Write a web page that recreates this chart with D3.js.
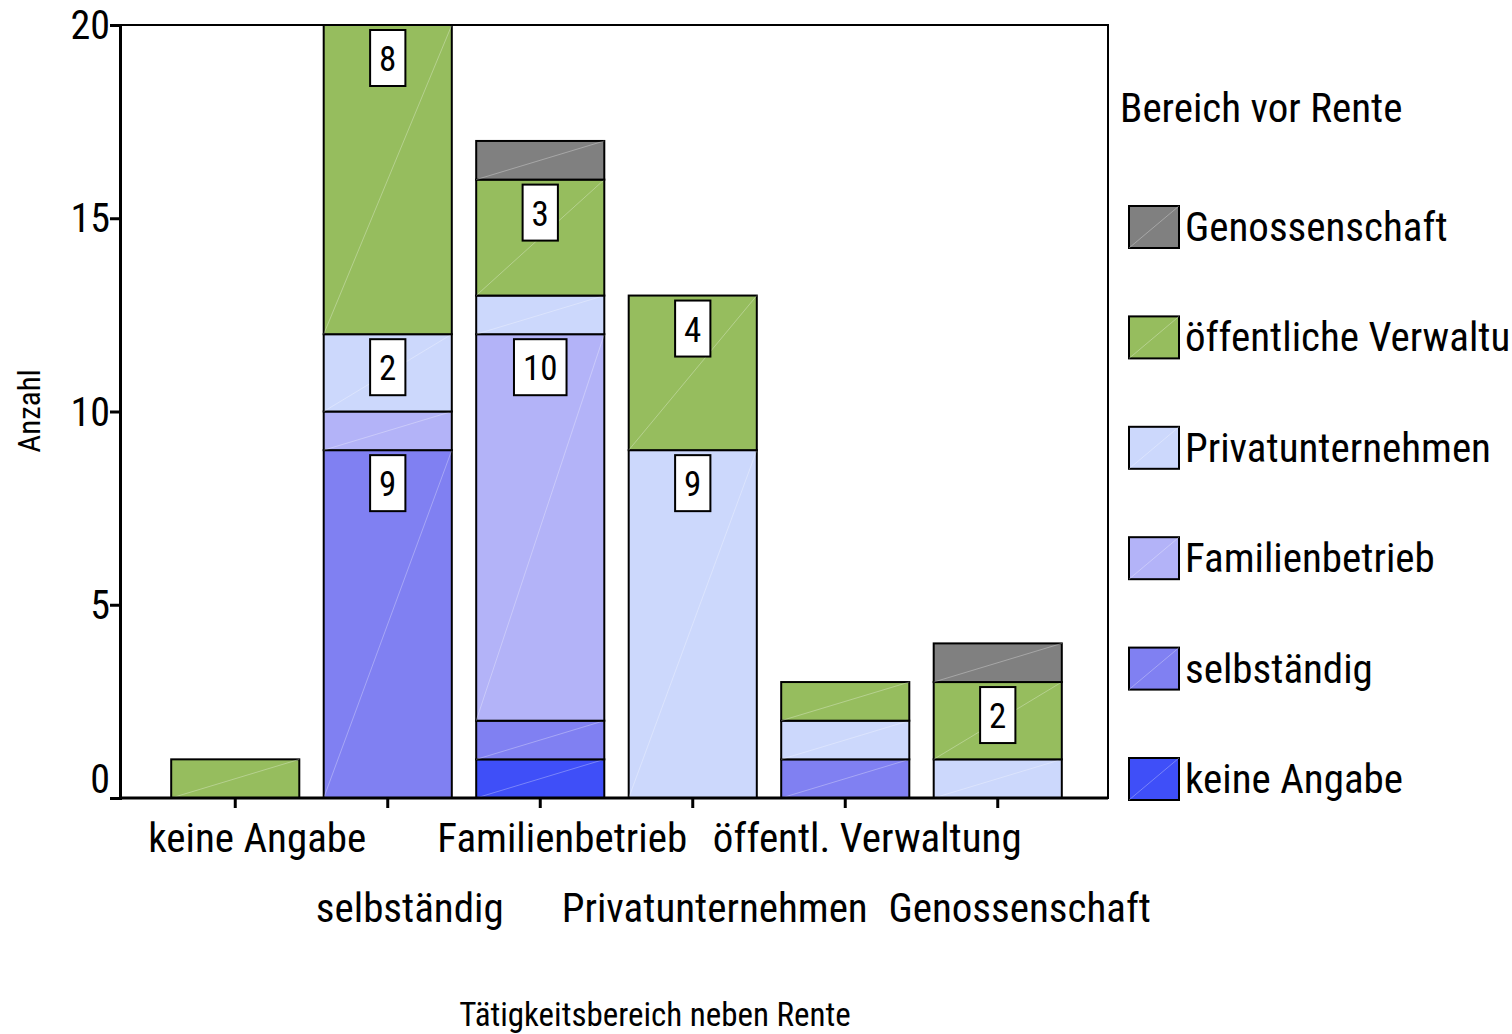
<!DOCTYPE html>
<html>
<head>
    <meta charset="utf-8">
    <script src="https://d3js.org/d3.v7.min.js"></script>
    <style>
        body { margin: 0; background: #fff; }
        text { font-family: "Roboto Condensed", "Roboto", sans-serif; fill: #000; }
    </style>
</head>
<body>
    <script>
        const [width, height] = [1512, 1034]

        // x categories (Tätigkeitsbereich neben Rente)
        const categories = ["keine Angabe", "selbständig", "Familienbetrieb", "Privatunternehmen", "öffentl. Verwaltung", "Genossenschaft"];
        // stack series (Bereich vor Rente), bottom to top
        const seriesNames = ["keine Angabe", "selbständig", "Familienbetrieb", "Privatunternehmen", "öffentliche Verwaltung", "Genossenschaft"];
        const seriesColors = ["#3f4ff8", "#8080f2", "#b3b3f8", "#ccd8fc", "#96bd5e", "#808080"];

        // counts per series, one value per category
        const keineAngabe    = [0, 0, 1, 0, 0, 0];
        const selbstaendig   = [0, 9, 1, 0, 1, 0];
        const familien       = [0, 1, 10, 0, 0, 0];
        const privat         = [0, 2, 1, 9, 1, 1];
        const oeffentlich    = [1, 8, 3, 4, 1, 2];
        const genossenschaft = [0, 0, 1, 0, 0, 1];

        const yTicks = [0, 5, 10, 15, 20];

        const seriesValues = [keineAngabe, selbstaendig, familien, privat, oeffentlich, genossenschaft];
        const rows = categories.map((c, i) => {
            const r = { cat: c };
            seriesNames.forEach((s, j) => r[s] = seriesValues[j][i]);
            return r;
        });

        const margin = { left: 120, top: 25, right: 1108, bottom: 798 };

        const x = d3.scaleBand()
            .domain(categories)
            .range([159, 1074])
            .paddingInner(0.16)
            .paddingOuter(0.08);

        const y = d3.scaleLinear()
            .domain([0, 20])
            .range([margin.bottom, margin.top]);

        const color = d3.scaleOrdinal().domain(seriesNames).range(seriesColors);

        const stack = d3.stack().keys(seriesNames)(rows);

        const svg = d3.select("body")
            .append("svg")
            .attr("width", width)
            .attr("height", height);

        // bars
        const layer = svg.selectAll("g.layer")
            .data(stack)
            .enter()
            .append("g")
            .attr("class", "layer");

        const seg = layer.selectAll("g.seg")
            .data(d => d.map(p => ({ key: d.key, p: p })).filter(o => o.p[1] - o.p[0] > 0))
            .enter()
            .append("g");

        seg.append("rect")
            .attr("x", d => x(d.p.data.cat))
            .attr("y", d => y(d.p[1]))
            .attr("width", x.bandwidth())
            .attr("height", d => y(d.p[0]) - y(d.p[1]))
            .style("fill", d => color(d.key))
            .style("stroke", "#000")
            .style("stroke-width", 2);

        // faint diagonal sheen seen in the original
        seg.append("line")
            .attr("x1", d => x(d.p.data.cat))
            .attr("y1", d => y(d.p[0]))
            .attr("x2", d => x(d.p.data.cat) + x.bandwidth())
            .attr("y2", d => y(d.p[1]))
            .style("stroke", "#fff")
            .style("stroke-opacity", 0.3)
            .style("stroke-width", 1);

        // value labels (only segments of 2 or more)
        const lab = seg.filter(d => d.p[1] - d.p[0] >= 2).append("g");
        lab.each(function(d) {
            const g = d3.select(this);
            const cx = x(d.p.data.cat) + x.bandwidth() / 2;
            const top = y(d.p[1]) + 5;
            const t = g.append("text")
                .attr("x", cx)
                .attr("y", top + 41)
                .attr("text-anchor", "middle")
                .style("font-size", "35px")
                .text(d.p[1] - d.p[0]);
            const w = t.node().getComputedTextLength() + 18;
            g.insert("rect", "text")
                .attr("x", cx - w / 2)
                .attr("y", top)
                .attr("width", w)
                .attr("height", 56)
                .style("fill", "#fff")
                .style("stroke", "#000")
                .style("stroke-width", 2);
        });

        // frame
        svg.append("rect")
            .attr("x", margin.left)
            .attr("y", margin.top)
            .attr("width", margin.right - margin.left)
            .attr("height", margin.bottom - margin.top)
            .style("fill", "none")
            .style("stroke", "#000")
            .style("stroke-width", 2);

        // y axis
        const yAxis = svg.append("g")
            .attr("transform", `translate(${margin.left},0)`)
            .call(d3.axisLeft(y).tickValues(yTicks).tickSize(10).tickPadding(0));
        yAxis.attr("font-family", null);
        yAxis.select(".domain").style("stroke-width", 3);
        yAxis.selectAll(".tick line").style("stroke-width", 3);
        yAxis.selectAll("text")
            .style("font-size", "40px")
            .attr("dy", d => d == 0 ? "-0.15em" : "0.34em");

        // x axis
        const xAxis = svg.append("g")
            .attr("transform", `translate(0,${margin.bottom})`)
            .call(d3.axisBottom(x).tickSize(10).tickFormat(""));
        xAxis.select(".domain").attr("d", `M${margin.left},0H${margin.right}`).style("stroke-width", 3);
        xAxis.selectAll(".tick line").style("stroke-width", 3);

        svg.selectAll("text.xlab")
            .data(categories)
            .enter()
            .append("text")
            .attr("class", "xlab")
            .attr("x", d => x(d) + x.bandwidth() / 2 + 22)
            .attr("y", (d, i) => i % 2 == 0 ? 852 : 922)
            .attr("text-anchor", "middle")
            .style("font-size", "41px")
            .text(d => d);

        // axis titles
        svg.append("text")
            .attr("x", 655)
            .attr("y", 1026)
            .attr("text-anchor", "middle")
            .style("font-size", "33px")
            .text("Tätigkeitsbereich neben Rente");

        svg.append("text")
            .attr("transform", "translate(40,411) rotate(-90)")
            .attr("text-anchor", "middle")
            .style("font-size", "31px")
            .text("Anzahl");

        // legend
        const legend = svg.append("g");
        legend.append("text")
            .attr("x", 1120)
            .attr("y", 122)
            .style("font-size", "41px")
            .text("Bereich vor Rente");

        const legendOrder = seriesNames.slice().reverse();
        const item = legend.selectAll("g.item")
            .data(legendOrder)
            .enter()
            .append("g")
            .attr("transform", (d, i) => `translate(1129,${206 + i * 110.4})`);

        item.append("rect")
            .attr("width", 50)
            .attr("height", 42)
            .style("fill", d => color(d))
            .style("stroke", "#000")
            .style("stroke-width", 2);
        item.append("line")
            .attr("x1", 0).attr("y1", 42).attr("x2", 50).attr("y2", 0)
            .style("stroke", "#fff").style("stroke-opacity", 0.3);
        item.append("text")
            .attr("x", 56)
            .attr("y", 35)
            .style("font-size", "41px")
            .text(d => d);
    </script>
</body>
</html>
